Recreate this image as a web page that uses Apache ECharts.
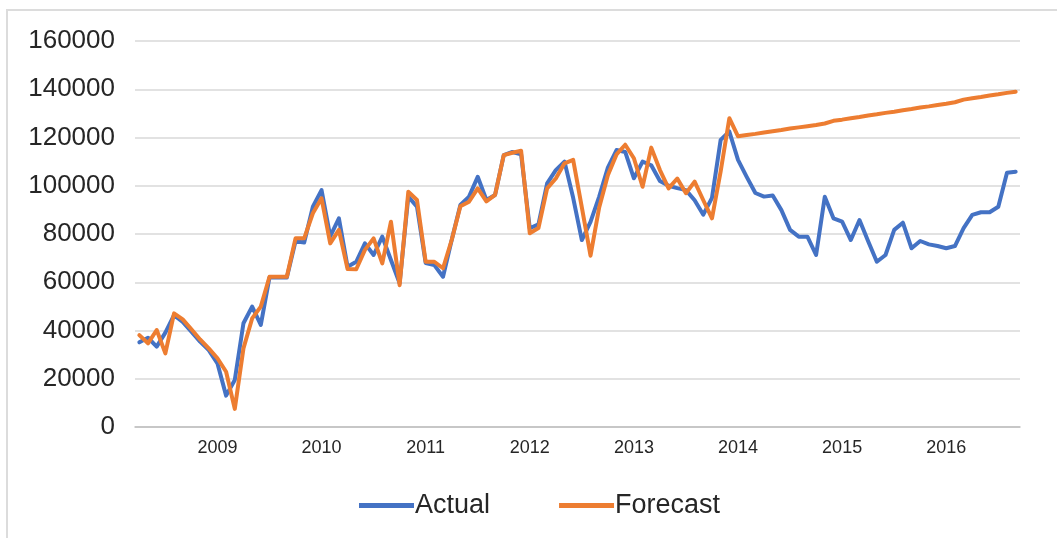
<!DOCTYPE html>
<html>
<head>
<meta charset="utf-8">
<script src="https://cdn.jsdelivr.net/npm/echarts@6/dist/echarts.min.js"></script>
<style>
    html, body { margin: 0; padding: 0; background: #fff; overflow: hidden; }
    #frame {
        position: absolute; left: 6px; top: 9px; width: 1200px; height: 700px;
        border: 2px solid #dcdcdc;
    }
    #chart { position: absolute; left: 0; top: 0; width: 1057px; height: 538px; }
</style>
</head>
<body>
<div id="frame"></div>
<div id="chart"></div>
<script>
// monthly, Apr 2008 .. Sep 2016
const startYear = 2008
const startMonth = 4
const monthCount = 102

const actual = [
    35100, 37000, 33300, 39100, 46400, 43600, 39500, 35400, 31900, 26400,
    13000, 19500, 43000, 49900, 42300, 62000, 62000, 62000, 77000, 76500,
    91300, 98200, 79000, 86500, 66400, 68500, 76100, 71300, 78900, 69200,
    59600, 95500, 91300, 68000, 67100, 62300, 77500, 92000, 95500, 103700,
    94100, 96200, 112700, 114000, 113000, 82400, 84000, 101000, 106500, 110000,
    95000, 77500, 85000, 95500, 107500, 114800, 114000, 103100, 110000, 108500,
    102000, 100000, 99000, 98200, 94000, 88000, 95000, 119000, 122500, 110700,
    103700, 97000, 95500, 96000, 89900, 81700, 78900, 78900, 71300, 95400,
    86500, 85100, 77500, 85800, 77000, 68500, 71300, 81700, 84700, 74100,
    77100, 75700, 75000, 74100, 75000, 82400, 87900, 89000, 89000, 91300,
    105400, 105800
]

const forecast = [
    38100, 34700, 40200, 30500, 47100, 44600, 40500, 36300, 32600, 28500,
    22900, 7500, 32600, 45000, 49900, 62300, 62300, 62300, 78200, 78200,
    88600, 94800, 76100, 81700, 65500, 65400, 73400, 78200, 67800, 85100,
    58800, 97500, 94100, 68500, 68500, 65800, 77500, 91500, 93400, 98900,
    93500, 96200, 112700, 113700, 114500, 80300, 82500, 98900, 103000, 109300,
    110700, 91000, 71000, 91000, 104400, 113000, 117000, 111400, 99600, 115800,
    106500, 98900, 103000, 96900, 101700, 94000, 86500, 106000, 128000, 120500,
    121000, 121500, 122100, 122600, 123100, 123700, 124200, 124700, 125200, 125800,
    126900, 127400, 128000, 128500, 129100, 129600, 130200, 130700, 131300, 131800,
    132400, 132900, 133500, 134000, 134600, 135700, 136300, 136800, 137400, 137900,
    138500, 139000
]

const yTicks = [0, 20000, 40000, 60000, 80000, 100000, 120000, 140000, 160000]

// category labels like 2008-04
const months = []
for (let i = 0; i < monthCount; i++) {
    const m = startMonth - 1 + i
    const y = startYear + Math.floor(m / 12)
    const mm = (m % 12) + 1
    months.push(y + '-' + (mm < 10 ? '0' + mm : mm))
}

const chart = echarts.init(document.getElementById('chart'))

chart.setOption({
    animation: false,
    textStyle: { fontFamily: 'Liberation Sans, Arial, sans-serif' },
    grid: { left: 135, right: 37, top: 41, bottom: 111, containLabel: false },
    legend: {
        data: ['Actual', 'Forecast'],
        left: 354,
        top: 487,
        icon: 'rect',
        itemWidth: 55,
        itemHeight: 5,
        itemGap: 69,
        textStyle: { fontSize: 27, color: '#262626', padding: [0, 0, 0, -4] }
    },
    xAxis: {
        type: 'category',
        data: months,
        boundaryGap: true,
        axisLine: { lineStyle: { color: '#bfbfbf', width: 1.5 } },
        axisTick: { show: false },
        axisLabel: {
            interval: (idx, val) => val.endsWith('-01'),
            formatter: val => val.slice(0, 4),
            fontSize: 18,
            color: '#262626',
            margin: 12
        },
        splitLine: { show: false }
    },
    yAxis: {
        type: 'value',
        min: yTicks[0],
        max: yTicks[yTicks.length - 1],
        interval: 20000,
        axisLine: { show: false },
        axisTick: { show: false },
        axisLabel: {
            fontSize: 26,
            color: '#262626',
            margin: 20,
            padding: [4, 0, 0, 0],
            formatter: v => String(v)
        },
        splitLine: { lineStyle: { color: '#d9d9d9', width: 1.5 } }
    },
    series: [
        {
            name: 'Actual',
            type: 'line',
            data: actual,
            showSymbol: false,
            color: '#4472c4',
            lineStyle: { width: 4, cap: 'round', join: 'round' }
        },
        {
            name: 'Forecast',
            type: 'line',
            data: forecast,
            showSymbol: false,
            color: '#ed7d31',
            lineStyle: { width: 4, cap: 'round', join: 'round' }
        }
    ]
})
</script>
</body>
</html>
